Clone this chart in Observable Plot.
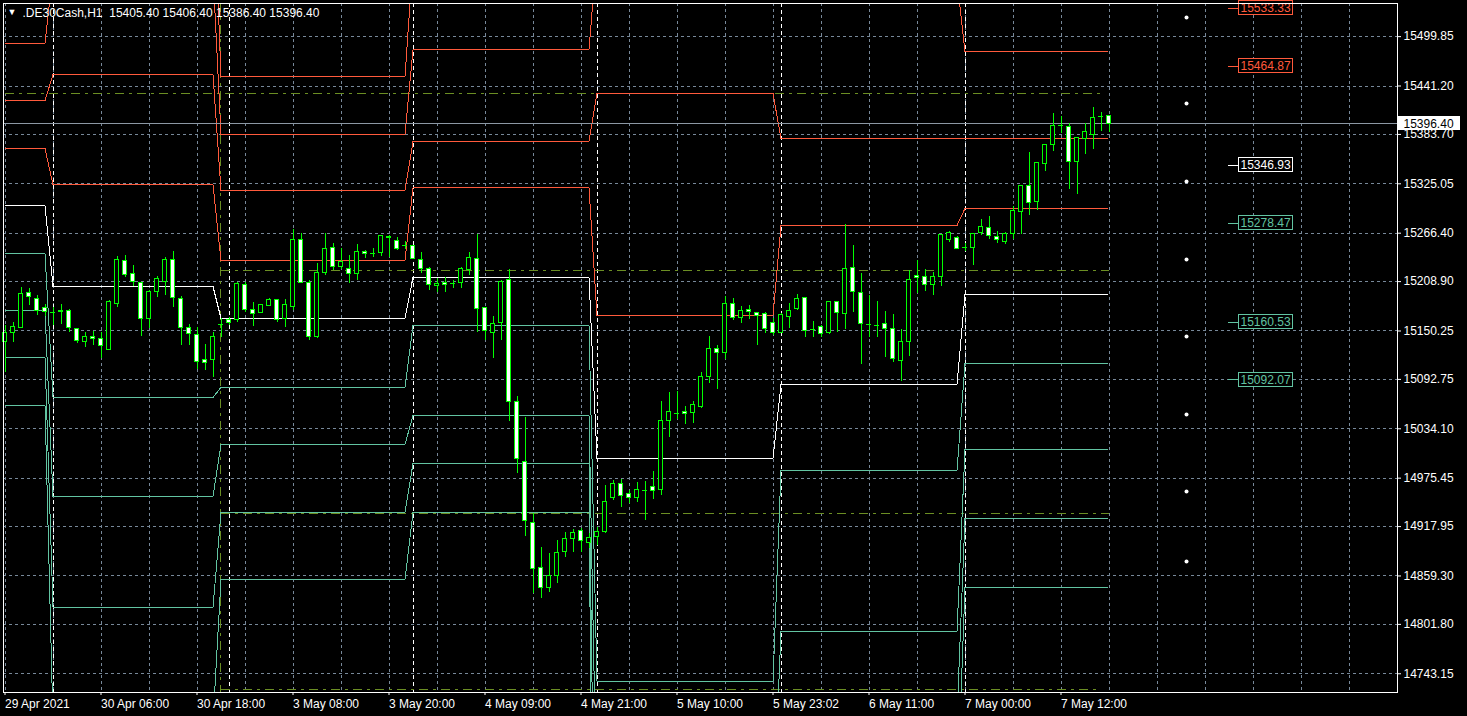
<!DOCTYPE html>
<html><head><meta charset="utf-8">
<script src="https://cdn.jsdelivr.net/npm/d3@7"></script>
<script src="https://cdn.jsdelivr.net/npm/@observablehq/plot@0.6"></script>
<style>
html,body{margin:0;padding:0;background:#000;overflow:hidden}
#chart{width:1467px;height:716px}
</style></head><body><div id="chart"></div>
<script>
// ---- data ----
const header = ".DE30Cash,H1  15405.40 15406.40 15386.40 15396.40";
const O=[15136.6,15147.3,15153.3,15194.8,15188.8,15177.0,15172.3,15173.4,15173.4,15152.1,
15136.6,15143.7,15140.2,15127.1,15181.8,15233.9,15218.5,15207.8,15163.9,15196.0,
15209.0,15235.1,15188.8,15153.3,15144.9,15115.3,15115.3,15158.0,15162.8,15162.8,
15205.4,15174.6,15171.1,15179.4,15186.5,15163.9,15178.2,15258.9,15207.8,15142.6,
15219.7,15249.4,15226.8,15224.4,15218.5,15243.5,15242.3,15242.3,15261.3,15257.7,
15251.8,15250.6,15235.1,15224.4,15203.1,15207.8,15206.6,15207.8,15223.2,15236.3,
15177.0,15147.3,15159.2,15211.4,15066.5,14994.1,14921.7,14868.3,14844.5,14858.7,
14887.3,14902.7,14912.2,14897.9,14905.1,14911.0,14951.4,14968.0,14956.2,14951.4,
14960.9,14964.4,14960.9,15042.8,15052.3,15053.5,15052.3,15059.4,15095.1,15128.3,
15124.7,15182.9,15165.1,15174.6,15171.1,15169.9,15159.2,15147.3,15166.3,15175.8,
15189.9,15151.9,15154.4,15147.3,15184.1,15169.9,15225.6,15194.8,15158.0,15156.8,
15158.0,15152.1,15114.1,15136.6,15215.0,15213.8,15205.4,15213.8,15258.9,15260.1,
15249.4,15249.4,15267.2,15273.1,15261.3,15256.5,15266.0,15292.1,15323.0,15304.0,
15348.0,15370.6,15394.3,15393.1,15351.5,15377.7,15383.6,15405.0,15405.4];
const H=[15156.8,15160.4,15201.9,15200.7,15192.4,15181.8,15178.2,15181.8,15175.8,15153.3,
15148.5,15149.7,15148.5,15186.5,15238.7,15239.9,15227.9,15207.8,15198.3,15215.0,
15237.5,15244.6,15191.2,15158.0,15154.4,15134.3,15148.5,15165.1,15166.3,15207.8,
15207.8,15184.1,15181.8,15188.8,15187.7,15187.7,15270.8,15266.0,15210.2,15230.4,
15266.0,15254.1,15248.2,15239.9,15252.9,15245.8,15248.2,15262.5,15263.7,15261.3,
15256.5,15250.6,15243.5,15225.6,15212.6,15213.8,15210.2,15225.6,15243.5,15264.9,
15178.2,15167.5,15210.2,15223.2,15072.4,15047.5,14933.6,14893.2,14886.1,14901.5,
14911.0,14914.6,14915.8,14909.8,14916.9,14966.8,14972.8,14973.9,14960.9,14970.4,
14971.6,14983.4,15066.5,15077.2,15078.4,15060.6,15066.5,15101.0,15143.7,15133.1,
15191.2,15188.8,15179.4,15180.6,15172.3,15172.3,15165.1,15171.1,15182.9,15193.6,
15189.9,15161.6,15156.8,15185.3,15185.3,15276.7,15251.8,15218.5,15192.4,15185.3,
15173.4,15169.9,15152.1,15222.0,15233.9,15223.2,15219.7,15264.9,15268.4,15262.5,
15254.1,15266.0,15282.6,15286.2,15268.4,15267.2,15298.1,15323.0,15362.2,15349.2,
15370.6,15408.6,15405.0,15396.7,15378.9,15396.7,15415.7,15409.7,15406.4];
const L=[15101.0,15136.6,15153.3,15180.6,15168.7,15167.5,15156.8,15158.0,15148.5,15135.4,
15130.6,15133.1,15117.6,15127.1,15178.2,15213.8,15203.1,15143.7,15153.3,15189.9,
15192.4,15178.2,15133.1,15133.1,15104.5,15103.4,15095.1,15142.6,15156.8,15160.4,
15172.3,15155.6,15171.1,15179.4,15160.4,15154.4,15174.6,15206.6,15138.9,15141.4,
15216.1,15222.0,15223.2,15206.6,15210.2,15236.3,15237.5,15238.7,15237.5,15245.8,
15247.0,15236.3,15218.5,15198.3,15196.0,15196.0,15200.7,15200.7,15216.1,15148.5,
15138.9,15117.6,15138.9,15042.8,14981.0,14906.3,14838.6,14832.6,14839.8,14850.2,
14881.4,14887.3,14887.3,14892.0,14895.6,14909.8,14949.0,14940.7,14945.4,14946.6,
14925.3,14950.2,14954.9,15023.8,15045.1,15039.2,15040.4,15058.2,15088.0,15080.8,
15116.4,15162.8,15159.2,15163.9,15133.1,15147.3,15144.9,15147.3,15153.3,15174.6,
15142.6,15142.6,15142.6,15146.1,15148.5,15152.1,15172.3,15110.5,15142.6,15142.6,
15118.8,15112.9,15090.3,15119.9,15194.8,15197.2,15192.4,15203.1,15255.4,15247.0,
15244.6,15228.0,15263.7,15258.9,15254.1,15253.0,15258.9,15264.9,15287.4,15293.3,
15339.7,15363.4,15384.8,15318.3,15312.3,15359.8,15365.8,15387.2,15386.4];
const C=[15147.3,15154.4,15193.6,15191.2,15173.4,15172.3,15172.0,15172.3,15153.3,15138.9,
15143.7,15140.2,15131.9,15184.1,15235.1,15217.3,15209.0,15163.9,15196.0,15211.5,
15235.1,15189.9,15153.3,15146.1,15112.9,15111.7,15142.6,15158.3,15159.2,15206.6,
15174.6,15169.9,15180.6,15186.5,15162.8,15180.6,15258.9,15207.8,15142.6,15219.7,
15248.2,15226.8,15232.7,15218.5,15244.6,15241.1,15242.0,15262.5,15260.1,15248.2,
15251.5,15236.3,15224.4,15204.3,15206.6,15205.4,15206.3,15224.4,15237.5,15175.8,
15149.7,15158.0,15209.0,15066.5,14998.8,14924.1,14867.1,14844.5,14858.7,14886.1,
14902.7,14909.8,14900.3,14903.9,14911.0,14946.6,14968.0,14953.8,14951.4,14960.9,
14960.6,14959.7,15042.8,15053.5,15052.0,15051.1,15061.8,15095.1,15128.3,15124.7,
15182.9,15165.1,15173.4,15172.3,15167.5,15152.1,15147.3,15168.7,15173.4,15188.8,
15150.7,15151.6,15146.1,15184.1,15171.1,15224.4,15196.0,15158.0,15157.7,15156.5,
15152.1,15116.4,15136.6,15211.4,15212.6,15205.4,15213.8,15263.7,15267.2,15248.2,
15249.1,15266.0,15274.3,15262.5,15258.9,15266.0,15293.3,15323.0,15302.8,15349.2,
15370.6,15394.3,15394.0,15351.5,15378.9,15386.0,15403.8,15404.7,15396.4];

const yTicks = [15499.85,15441.20,15383.70,15325.05,15266.40,15208.90,15150.25,15092.75,15034.10,14975.45,14917.95,14859.30,14801.80,14743.15];
const xTicks = [0,12,24,36,48,60,72,84,96,108,120,132];
const xLabels = ["29 Apr 2021","30 Apr 06:00","30 Apr 18:00","3 May 08:00","3 May 20:00","4 May 09:00","4 May 21:00","5 May 10:00","5 May 23:02","6 May 11:00","7 May 00:00","7 May 12:00"];
const daySeparators = [6, 28, 51, 74, 97, 120];
const dayStart = [0, 6, 27, 51, 74, 97, 120];
const dayEnd   = [5, 26, 50, 73, 96, 119, 137.8];
// daily pivot levels, one value per day
const R4 = [15559.3, 15698.3, 15452.5, 15591.4, 15771.9, 15756.5, 15584.3];
const R3 = [15491.6, 15577.1, 15383.6, 15484.5, 15602.1, 15567.6, 15482.1];
const R2 = [15424.0, 15454.8, 15317.1, 15375.3, 15432.3, 15378.8, 15378.8];
const R1 = [15367.0, 15324.2, 15234.0, 15320.6, 15168.6, 15275.5, 15295.7];
const PP = [15299.3, 15203.1, 15165.1, 15213.8, 14998.8, 15086.7, 15193.6];
const S1 = [15242.3, 15071.3, 15083.2, 15156.8, 14734.0, 14984.6, 15111.6];
const S2 = [15174.6, 14953.7, 15015.5, 15049.9, 14565.4, 14793.4, 15009.5];
const S3 = [15118.8, 14821.9, 14934.7, 14992.9, 14301.8, 14691.3, 14927.6];
const S4 = [15061.8, 14686.5, 14855.1, 14934.7, 14038.1, 14587.9, 14845.6];
// weekly levels
const weeklyLevels = [15432.3, 15222.1, 14933.5, 14724.5];
const weeklyStart = [0, 27, 27, 27];
const weeklyEnd = [137, 138, 138, 137];
const weekSeparator = [26.9];
const currentPrice = 15396.40;
const pivotLabels = [15533.33, 15464.87, 15346.93, 15278.47, 15160.53, 15092.07];
const pivotLabelKind = ["res","res","pp","sup","sup","sup"];
const futureDots = [15522.5, 15420.4, 15327.8, 15235.1, 15143.7, 15051.1, 14959.7, 14876.5];

// ---- styles ----
const kindColor = {res:"#ff5a3c", pp:"#ffffff", sup:"#62c4a2"};
const BULL = "#00ff00";
const OLIVE = "#6b8e23";
const candles = O.map((o,i)=>({i, o, h:H[i], l:L[i], c:C[i]}));
const bodies = candles.filter(d=>Math.abs(d.c-d.o)>=0.8);
const dojis = candles.filter(d=>Math.abs(d.c-d.o)<0.8);
const series = [["R4",R4,"res"],["R3",R3,"res"],["R2",R2,"res"],["R1",R1,"res"],["PP",PP,"pp"],
                ["S1",S1,"sup"],["S2",S2,"sup"],["S3",S3,"sup"],["S4",S4,"sup"]];
const pivotPts = series.flatMap(([s, vals, kind]) =>
  vals.flatMap((v, d) => [{s, kind, x: dayStart[d], y: v}, {s, kind, x: dayEnd[d], y: v}]));
const weeklyRows = weeklyLevels.map((v,k)=>({v, a: weeklyStart[k], b: weeklyEnd[k]}));
const gridX = d3.range(0, 175, 6);
const xDomain = [-0.1875, 174.0625];
const labelX = 154.44;

const plot = Plot.plot({
  width: 1467, height: 716,
  marginLeft: 3, marginRight: 70, marginTop: 3, marginBottom: 24,
  style: {background:"#000", color:"#fff", fontFamily:"'Liberation Sans', Arial, sans-serif", fontSize:"12px"},
  x: {type:"linear", domain:xDomain, axis:null},
  y: {domain:[14720.9, 15539.2], axis:null},
  marks: [
    Plot.ruleX(gridX, {stroke:"#778899", strokeDasharray:"3,3", shapeRendering:"crispEdges"}),
    Plot.ruleY(yTicks, {stroke:"#778899", strokeDasharray:"3,3", shapeRendering:"crispEdges"}),
    Plot.ruleX(daySeparators, {stroke:"#ffffff", strokeDasharray:"4,3", shapeRendering:"crispEdges"}),
    Plot.ruleX(weekSeparator, {stroke:OLIVE, strokeDasharray:"9,5,3,5", shapeRendering:"crispEdges"}),
    Plot.ruleY(weeklyRows, {y:"v", x1:"a", x2:"b", stroke:OLIVE, strokeDasharray:"9,5,3,5", shapeRendering:"crispEdges"}),
    Plot.line(pivotPts, {x:"x", y:"y", z:"s", stroke:d=>kindColor[d.kind], strokeWidth:1, shapeRendering:"crispEdges", clip:true}),
    Plot.ruleY([currentPrice], {stroke:"#8c98a4", shapeRendering:"crispEdges"}),
    Plot.ruleX(candles, {x:"i", y1:"l", y2:"h", stroke:BULL, shapeRendering:"crispEdges"}),
    Plot.rect(bodies, {x1:d=>d.i-0.25, x2:d=>d.i+0.25, y1:"o", y2:"c", fill:d=>d.c>d.o?"#000000":"#ffffff", stroke:BULL, shapeRendering:"crispEdges"}),
    Plot.ruleY(dojis, {y:"c", x1:d=>d.i-0.3, x2:d=>d.i+0.3, stroke:BULL, shapeRendering:"crispEdges"}),
    Plot.dot(futureDots, {x:147.69, y:d=>d, r:2, fill:"#ffffff", stroke:null}),
    Plot.ruleY(pivotLabels, {y:d=>d, x1:152.94, x2:154.19, stroke:(d,i)=>kindColor[pivotLabelKind[i]], shapeRendering:"crispEdges"}),
    Plot.rect(pivotLabels, {x1:labelX, x2:labelX, y1:d=>d, y2:d=>d, insetLeft:-2, insetRight:-52, insetTop:-7, insetBottom:-7, fill:"#000", stroke:(d,i)=>kindColor[pivotLabelKind[i]], shapeRendering:"crispEdges"}),
    Plot.text(pivotLabels, {x:labelX, y:d=>d, text:d=>d.toFixed(2), textAnchor:"start", fill:(d,i)=>kindColor[pivotLabelKind[i]], fontSize:12}),
    Plot.axisY(yTicks, {anchor:"right", tickSize:3, tickPadding:3, tickFormat:d=>d.toFixed(2), stroke:"#fff", fill:"#fff", fontSize:12}),
    Plot.axisX(xTicks, {anchor:"bottom", tickSize:3, tickPadding:4, tickFormat:(d,i)=>xLabels[i], textAnchor:"start", stroke:"#fff", fill:"#fff", fontSize:12}),
    Plot.frame({stroke:"#ffffff", shapeRendering:"crispEdges"}),
    Plot.rect([currentPrice], {x1:()=>xDomain[1], x2:()=>xDomain[1], y1:d=>d, y2:d=>d, insetLeft:1, insetRight:-63, insetTop:-7, insetBottom:-7, fill:"#ffffff", shapeRendering:"crispEdges"}),
    Plot.text([currentPrice], {y:d=>d, frameAnchor:"right", dx:6, textAnchor:"start", text:d=>d.toFixed(2), fill:"#000", fontSize:12}),
    Plot.text(["\u25BC"], {frameAnchor:"top-left", dx:4, dy:9, lineAnchor:"middle", textAnchor:"start", text:d=>d, fill:"#fff", fontSize:9}),
    Plot.text([header], {frameAnchor:"top-left", dx:19, dy:9.5, lineAnchor:"middle", textAnchor:"start", text:d=>d, fill:"#fff", fontSize:12})
  ]
});
document.getElementById("chart").appendChild(plot);
</script>
</body></html>
